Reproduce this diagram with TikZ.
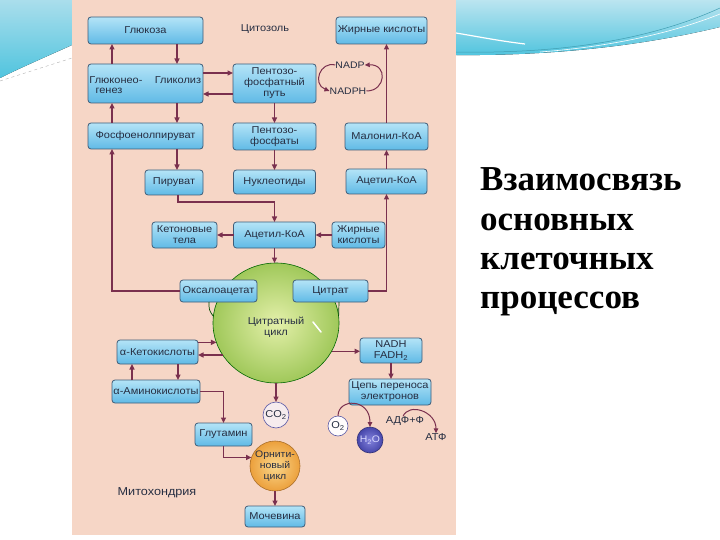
\documentclass[tikz,border=0pt]{standalone}
\usepackage{fontspec}
\setmainfont{Liberation Sans}
\newfontfamily\lblfont[FakeStretch=1.1]{Liberation Sans}
\newfontfamily\titlefont{Liberation Serif}
\usetikzlibrary{shapes.geometric,arrows.meta}
\definecolor{pinkbg}{RGB}{246,214,198}
\definecolor{boxtop}{RGB}{180,228,247}
\definecolor{boxbot}{RGB}{96,186,230}
\definecolor{boxline}{RGB}{62,92,120}
\definecolor{arrc}{RGB}{122,48,78}
\definecolor{txt}{RGB}{38,46,66}
\definecolor{swtop}{RGB}{170,222,236}
\definecolor{swbot}{RGB}{80,196,222}
\tikzset{
  box/.style={draw=boxline, line width=0.8pt, rounded corners=3pt, top color=boxtop, bottom color=boxbot,
    inner sep=0pt, outer sep=0pt, font=\lblfont\fontsize{10}{11}\selectfont, text=txt, align=center},
  lbl/.style={inner sep=0pt, font=\lblfont\fontsize{10}{11}\selectfont, text=txt, align=center},
  arr/.style={draw=arrc, line width=1.3pt, -{Triangle[length=5.5pt,width=5pt]}},
  thinarr/.style={draw=arrc, line width=1pt, -{Triangle[length=5pt,width=4.5pt]}},
  ttl/.style={anchor=base west, inner sep=0pt, font=\titlefont\bfseries\fontsize{35}{35}\selectfont, text=black}
}
\begin{document}
\begin{tikzpicture}[x=1pt,y=-1pt]
\useasboundingbox (0,0) rectangle (720,540);
\fill[white] (0,0) rectangle (720,540);
% top swooshes
\fill[top color=swtop, bottom color=swbot] (0,0) -- (72,0) -- (72,45) .. controls (50,55) and (22,67) .. (0,78) -- cycle;
\draw[gray!60, dashed, line width=0.4pt] (0,81) -- (72,58);
\fill[top color=swtop!80!white, bottom color=swbot] (456,0) -- (720,0) -- (720,27) .. controls (650,44) and (560,56) .. (456,55) -- cycle;
\draw[white, line width=1.2pt] (456,33) .. controls (480,37) and (500,41) .. (525,44);
\draw[swbot!80!black, line width=0.5pt] (456,52) .. controls (560,54) and (650,40) .. (720,8);
\draw[white, line width=0.6pt] (540,52) .. controls (620,46) and (680,30) .. (720,14);
% panel
\fill[pinkbg] (72,0) rectangle (456,535);
% texts
\node[lbl] (cyto) at (265,29) {Цитозоль};
\node[lbl, font=\lblfont\fontsize{11.5}{13}\selectfont] (mito) at (157,493) {Митохондрия};
% boxes
\node[box, minimum width=115, minimum height=27] (glc) at (145.5,30.5) {Глюкоза};
\node[box, minimum width=91, minimum height=27] (fa1) at (381.5,30.5) {Жирные кислоты};
\node[box, minimum width=115, minimum height=39] (gly) at (145.5,83.5) {};
\node[lbl] (gng1) at (116,80) {Глюконео-};
\node[lbl] (gng2) at (109,91) {генез};
\node[lbl] (glyt) at (178,80) {Гликолиз};
\node[box, minimum width=83, minimum height=39] (ppp) at (274.5,83.5) {Пентозо-\\фосфатный\\путь};
\node[box, minimum width=115, minimum height=26] (pep) at (145.5,136) {Фосфоенолпируват};
\node[box, minimum width=83, minimum height=27] (pph) at (274.5,136.5) {Пентозо-\\фосфаты};
\node[box, minimum width=83, minimum height=27] (mal) at (386.5,136.5) {Малонил-КоА};
\node[box, minimum width=58, minimum height=25] (pyr) at (174,182.5) {Пируват};
\node[box, minimum width=82, minimum height=24] (nuc) at (274.5,182) {Нуклеотиды};
\node[box, minimum width=81, minimum height=25] (acr) at (386.5,181.5) {Ацетил-КоА};
\node[box, minimum width=65, minimum height=26] (ket) at (184.5,235) {Кетоновые\\тела};
\node[box, minimum width=82, minimum height=26] (acc) at (274.5,235) {Ацетил-КоА};
\node[box, minimum width=53, minimum height=26] (fa2) at (358.5,235) {Жирные\\кислоты};
% citrate cycle
\node[ellipse, draw=green!40!black, line width=0.6pt, shading=radial, inner color={rgb,255:red,228;green,240;blue,170}, outer color={rgb,255:red,160;green,200;blue,90},
  minimum width=126, minimum height=120, inner sep=0pt, outer sep=0pt] (ov) at (276,323) {};
\node[lbl] (ovt) at (276,327) {Цитратный\\цикл};
\draw[white, line width=1.5pt, line cap=round] (313,322) -- (321,332);
\node[box, minimum width=77, minimum height=22] (oxa) at (218.5,291) {Оксалоацетат};
\node[box, minimum width=75, minimum height=22] (cit) at (330.5,291) {Цитрат};
\draw[green!30!black, line width=0.7pt] ([xshift=-9.5pt]oxa.south) .. controls (209,310) .. (ov.174);
\draw[green!30!black, line width=0.7pt] ([xshift=8.5pt]cit.south) .. controls (339,310) .. (ov.6);
\node[box, minimum width=81, minimum height=24] (keto) at (157.5,352) {α-Кетокислоты};
\node[box, minimum width=88, minimum height=23] (amino) at (156,391.5) {α-Аминокислоты};
\node[box, minimum width=62, minimum height=25] (nadh) at (391,350.5) {NADH\\FADH\textsubscript{2}};
\node[box, minimum width=82, minimum height=26] (etc) at (390,392) {Цепь переноса\\электронов};
\node[box, minimum width=57, minimum height=23] (glut) at (223.5,434.5) {Глутамин};
\node[box, minimum width=60, minimum height=21] (urea) at (275,516.5) {Мочевина};
% circles
\node[circle, draw=gray!70!blue, line width=0.6pt, fill={rgb,255:red,246;green,236;blue,238}, minimum size=26, inner sep=0pt, outer sep=0pt, font=\lblfont\fontsize{10}{11}\selectfont, text=txt] (co2) at (276,415) {CO\textsubscript{2}};
\node[circle, draw=gray!70!blue, line width=0.6pt, fill=white!95!pink, minimum size=20, inner sep=0pt, outer sep=0pt, font=\lblfont\fontsize{10}{11}\selectfont, text=txt] (o2) at (338,426) {O\textsubscript{2}};
\node[circle, draw={rgb,255:red,50;green,50;blue,120}, line width=0.6pt, shading=radial, inner color={rgb,255:red,130;green,130;blue,220}, outer color={rgb,255:red,70;green,70;blue,170}, minimum size=26, inner sep=0pt, outer sep=0pt, font=\lblfont\fontsize{9.5}{11}\selectfont, text=white!85!blue] (h2o) at (370,440) {H\textsubscript{2}O};
\node[circle, draw={rgb,255:red,170;green,110;blue,40}, line width=0.6pt, shading=radial, inner color={rgb,255:red,250;green,215;blue,140}, outer color={rgb,255:red,236;green,160;blue,60}, minimum size=48, inner sep=0pt, outer sep=0pt, font=\lblfont\fontsize{9.5}{11}\selectfont, text=txt, align=center] (orn) at (275,466) {Орнити-\\новый\\цикл};
\node[lbl] (adp) at (405,421) {АДФ+Ф};
\node[lbl] (atp) at (436,437) {АТФ};
\node[lbl, font=\lblfont\fontsize{9.5}{11}\selectfont] (nadp) at (350,65) {NADP};
\node[lbl, font=\lblfont\fontsize{9.5}{11}\selectfont] (nadph) at (348,91) {NADPH};
% helper coordinates
\coordinate (gA) at ([xshift=24pt]pep.south west);
\coordinate (gB) at ([xshift=89pt]pep.south west);
\coordinate (kA) at ([xshift=15pt]keto.south west);
\coordinate (kB) at ([xshift=61pt]keto.south west);
% arrows
\draw[arr] ([xshift=24pt]gly.north west) -- ([xshift=24pt]glc.south west);
\draw[arr] ([xshift=89pt]glc.south west) -- ([xshift=89pt]gly.north west);
\draw[arr] ([xshift=24pt]pep.north west) -- ([xshift=24pt]gly.south west);
\draw[arr] ([xshift=89pt]gly.south west) -- ([xshift=89pt]pep.north west);
\draw[arr] (gB) -- (gB |- pyr.north);
\draw[arr] (oxa.west) -| (gA);
\draw[arr] ([yshift=10.5pt]gly.east) -- ([yshift=10.5pt]ppp.west);
\draw[arr] ([yshift=-10.5pt]ppp.west) -- ([yshift=-10.5pt]gly.east);
\draw[arr] (ppp.south) -- (pph.north);
\draw[arr] (pph.south) -- (nuc.north);
\draw[arr] ([xshift=4pt]pyr.south) -- ++(0,7) -| (acc.north);
\draw[arr] (acc.west) -- (ket.east);
\draw[arr] (fa2.west) -- (acc.east);
\draw[arr] (acc.south) -- (acc.south |- ov.north);
\draw[arr] (cit.east) -| (acr.south);
\draw[arr] (acr.north) -- (mal.south);
\draw[arr] (mal.north) -- (mal.north |- fa1.south);
\draw[arr] (keto.east |- ov.198.6) -- (ov.198.6);
\draw[arr] (ov.211) -- (keto.east |- ov.211);
\draw[arr] (kA |- amino.north) -- (kA);
\draw[arr] (kB) -- (kB |- amino.north);
\draw[arr] (amino.east) -| (glut.north);
\draw[arr] (glut.south) |- (orn.160.5);
\draw[arr] (orn.south) -- (urea.north);
\draw[arr] (ov.south) -- (co2.north);
\draw[arr] (ov.333.3) -- (nadh.west |- ov.333.3);
\draw[arr] (nadh.south) -- (nadh.south |- etc.north);
\draw[thinarr] (o2.north) .. controls ([yshift=18pt]o2.north) and ([yshift=29pt]h2o.north) .. (h2o.north);
\draw[thinarr] ([xshift=-2pt]adp.north) .. controls ([shift={(4pt,14pt)}]adp.north) and ([yshift=22pt]atp.north) .. (atp.north);
\draw[thinarr] (nadp.west) .. controls (320,61) and (312,84) .. (nadph.west);
\draw[thinarr] (nadph.east) .. controls (386,91) and (388,64) .. (nadp.east);
% title
\node[ttl] (t1) at (480,191) {Взаимосвязь};
\node[ttl] (t2) at (480,230) {основных};
\node[ttl] (t3) at (480,269) {клеточных};
\node[ttl] (t4) at (480,308) {процессов};
\end{tikzpicture}
\end{document}
